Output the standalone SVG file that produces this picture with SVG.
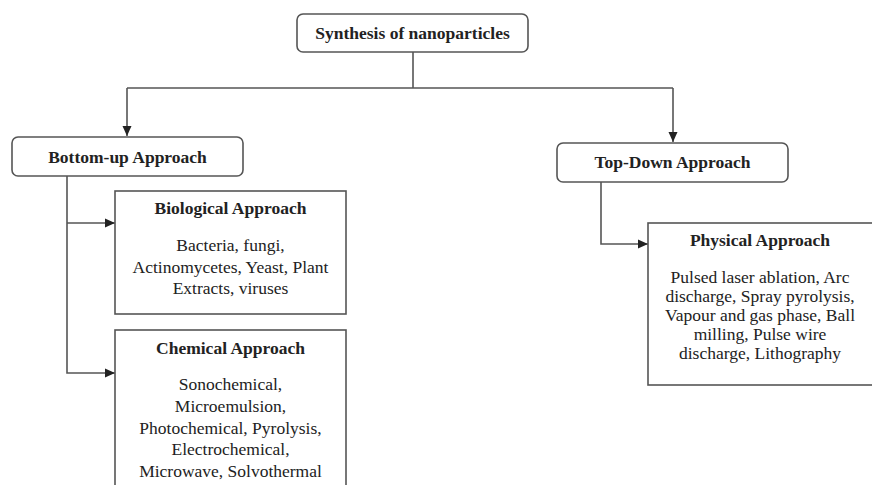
<svg xmlns="http://www.w3.org/2000/svg" width="872" height="485" viewBox="0 0 872 485">
  <style>
    .box { fill: #ffffff; stroke: #555555; stroke-width: 1.6; }
    .line { fill: none; stroke: #555555; stroke-width: 1.6; }
    text { font-family: "Liberation Serif", "Times New Roman", serif; fill: #222222; text-anchor: middle; }
    .title { font-size: 17.5px; font-weight: bold; }
    .body { font-size: 17.5px; }
  </style>
  <defs>
    <marker id="arrow" viewBox="0 0 10 10" refX="10" refY="5" markerWidth="10" markerHeight="10" markerUnits="userSpaceOnUse" orient="auto">
      <path d="M0,0.5 L10,5 L0,9.5 Z" fill="#222222"/>
    </marker>
  </defs>

  <rect width="872" height="485" fill="#ffffff"/>

  <!-- connectors -->
  <g id="connectors">
    <path class="line" d="M413,52 V88"/>
    <path class="line" d="M127,88 H673"/>
    <path class="line" d="M127,88 V136" marker-end="url(#arrow)"/>
    <path class="line" d="M673,88 V142" marker-end="url(#arrow)"/>
    <path class="line" d="M67,176 V373 H115" marker-end="url(#arrow)"/>
    <path class="line" d="M67,223 H115" marker-end="url(#arrow)"/>
    <path class="line" d="M601,182 V244 H648" marker-end="url(#arrow)"/>
  </g>

  <!-- root -->
  <g id="synthesis">
    <rect class="box" x="297" y="14" width="231" height="38" rx="6"/>
    <text class="title" x="412.5" y="39">Synthesis of nanoparticles</text>
  </g>

  <g id="bottom-up">
    <rect class="box" x="12" y="137" width="231" height="39" rx="6"/>
    <text class="title" x="127.5" y="163">Bottom-up Approach</text>
  </g>

  <g id="top-down">
    <rect class="box" x="557" y="143" width="231" height="39" rx="6"/>
    <text class="title" x="672.5" y="168">Top-Down Approach</text>
  </g>

  <g id="biological">
    <rect class="box" x="115" y="191" width="231" height="123"/>
    <text class="title" x="230.5" y="214">Biological Approach</text>
    <text class="body" x="230.5" y="251">Bacteria, fungi,</text>
    <text class="body" x="230.5" y="273">Actinomycetes, Yeast, Plant</text>
    <text class="body" x="230.5" y="294">Extracts, viruses</text>
  </g>

  <g id="chemical">
    <rect class="box" x="115" y="330" width="231" height="170"/>
    <text class="title" x="230.5" y="354">Chemical Approach</text>
    <text class="body" x="230.5" y="390">Sonochemical,</text>
    <text class="body" x="230.5" y="412">Microemulsion,</text>
    <text class="body" x="230.5" y="434">Photochemical, Pyrolysis,</text>
    <text class="body" x="230.5" y="455">Electrochemical,</text>
    <text class="body" x="230.5" y="477">Microwave, Solvothermal</text>
  </g>

  <g id="physical">
    <rect class="box" x="648" y="223" width="226" height="162"/>
    <text class="title" x="760" y="246">Physical Approach</text>
    <text class="body" x="760" y="283">Pulsed laser ablation, Arc</text>
    <text class="body" x="760" y="302">discharge, Spray pyrolysis,</text>
    <text class="body" x="760" y="321">Vapour and gas phase, Ball</text>
    <text class="body" x="760" y="340">milling, Pulse wire</text>
    <text class="body" x="760" y="359">discharge, Lithography</text>
  </g>
</svg>
